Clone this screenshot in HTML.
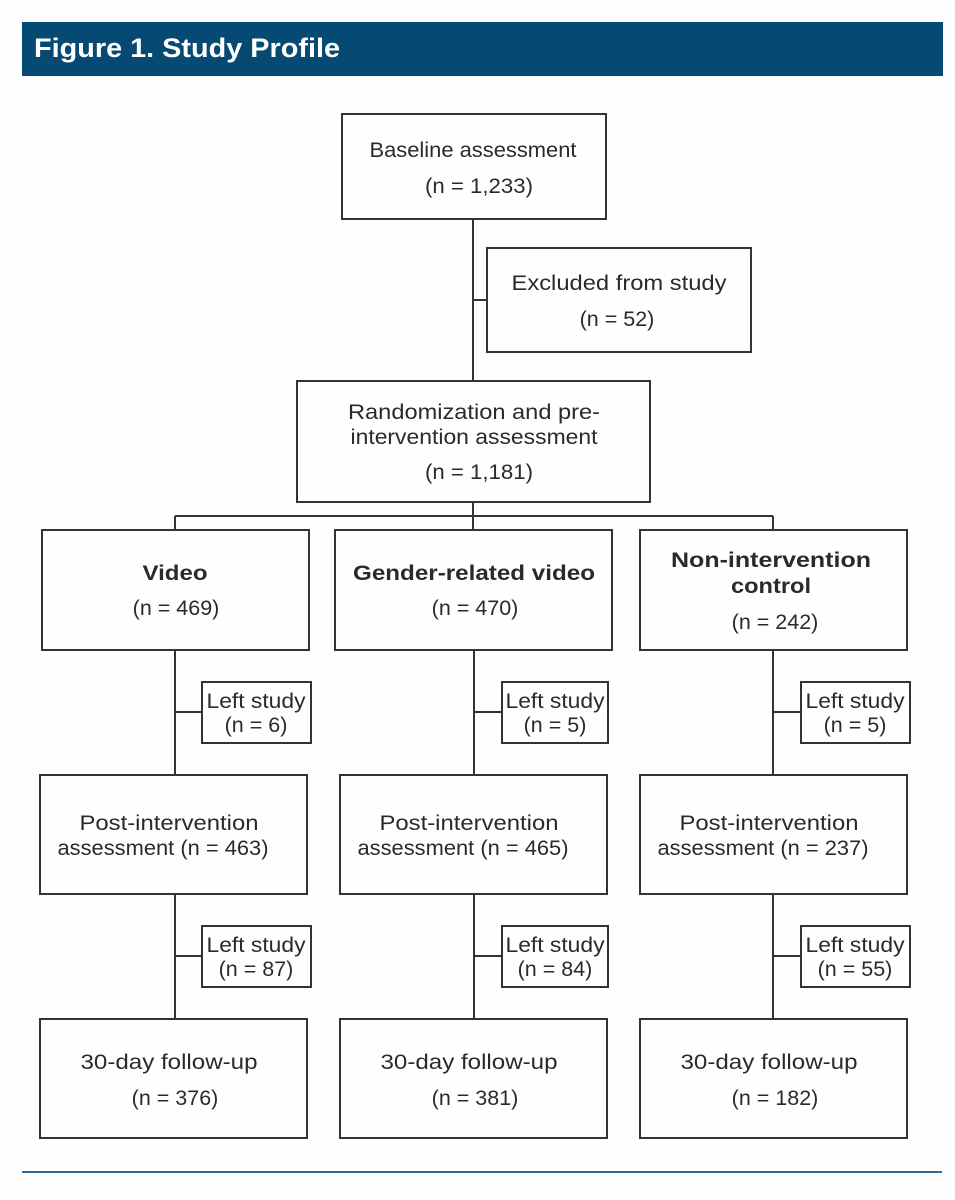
<!DOCTYPE html>
<html><head><meta charset="utf-8"><style>
html,body{margin:0;padding:0;background:#fdfefd;}
svg{display:block;}
text{font-family:"Liberation Sans",sans-serif;fill:#2a2a2a;font-size:21.5px;}
.b{font-weight:bold;}
</style></head><body>
<svg width="955" height="1200" viewBox="0 0 955 1200" xmlns="http://www.w3.org/2000/svg">
<rect x="22" y="22" width="921" height="54" fill="#064a73"/>
<text x="34" y="57" class="b" style="fill:#fff;font-size:27px" textLength="306" lengthAdjust="spacingAndGlyphs">Figure 1. Study Profile</text>
<g fill="none" stroke="#333" stroke-width="2">
<rect x="342" y="114" width="264" height="105"/>
<rect x="487" y="248" width="264" height="104"/>
<rect x="297" y="381" width="353" height="121"/>
<rect x="42" y="530" width="267" height="120"/>
<rect x="335" y="530" width="277" height="120"/>
<rect x="640" y="530" width="267" height="120"/>
<rect x="202" y="682" width="109" height="61"/>
<rect x="502" y="682" width="106" height="61"/>
<rect x="801" y="682" width="109" height="61"/>
<rect x="40" y="775" width="267" height="119"/>
<rect x="340" y="775" width="267" height="119"/>
<rect x="640" y="775" width="267" height="119"/>
<rect x="202" y="926" width="109" height="61"/>
<rect x="502" y="926" width="106" height="61"/>
<rect x="801" y="926" width="109" height="61"/>
<rect x="40" y="1019" width="267" height="119"/>
<rect x="340" y="1019" width="267" height="119"/>
<rect x="640" y="1019" width="267" height="119"/>
<path d="M473 219V381M473 300H487M473 502V530M175 516H773M175 516V530M773 516V530"/>
<path d="M175 650V775M175 712H202M175 894V1019M175 956H202"/>
<path d="M474 650V775M474 712H502M474 894V1019M474 956H502"/>
<path d="M773 650V775M773 712H801M773 894V1019M773 956H801"/>
</g>
<line x1="22" y1="1172" x2="942" y2="1172" stroke="#2e6a9a" stroke-width="2"/>
<g text-anchor="middle">
<text x="473" y="157" textLength="207" lengthAdjust="spacingAndGlyphs">Baseline assessment</text>
<text x="479" y="193" textLength="108" lengthAdjust="spacingAndGlyphs">(n = 1,233)</text>
<text x="619" y="290" textLength="215" lengthAdjust="spacingAndGlyphs">Excluded from study</text>
<text x="617" y="326">(n = 52)</text>
<text x="474" y="419" textLength="252" lengthAdjust="spacingAndGlyphs">Randomization and pre-</text>
<text x="474" y="444" textLength="247" lengthAdjust="spacingAndGlyphs">intervention assessment</text>
<text x="479" y="479" textLength="108" lengthAdjust="spacingAndGlyphs">(n = 1,181)</text>
<text class="b" x="175" y="580" textLength="65" lengthAdjust="spacingAndGlyphs">Video</text>
<text x="176" y="615">(n = 469)</text>
<text class="b" x="474" y="580" textLength="242" lengthAdjust="spacingAndGlyphs">Gender-related video</text>
<text x="475" y="615">(n = 470)</text>
<text class="b" x="771" y="567" textLength="200" lengthAdjust="spacingAndGlyphs">Non-intervention</text>
<text class="b" x="771" y="593" textLength="80" lengthAdjust="spacingAndGlyphs">control</text>
<text x="775" y="629">(n = 242)</text>
<text x="256" y="708" textLength="99" lengthAdjust="spacingAndGlyphs">Left study</text>
<text x="256" y="732">(n = 6)</text>
<text x="555" y="708" textLength="99" lengthAdjust="spacingAndGlyphs">Left study</text>
<text x="555" y="732">(n = 5)</text>
<text x="855" y="708" textLength="99" lengthAdjust="spacingAndGlyphs">Left study</text>
<text x="855" y="732">(n = 5)</text>
<text x="169" y="830" textLength="179" lengthAdjust="spacingAndGlyphs">Post-intervention</text>
<text x="163" y="855" textLength="211" lengthAdjust="spacingAndGlyphs">assessment (n = 463)</text>
<text x="469" y="830" textLength="179" lengthAdjust="spacingAndGlyphs">Post-intervention</text>
<text x="463" y="855" textLength="211" lengthAdjust="spacingAndGlyphs">assessment (n = 465)</text>
<text x="769" y="830" textLength="179" lengthAdjust="spacingAndGlyphs">Post-intervention</text>
<text x="763" y="855" textLength="211" lengthAdjust="spacingAndGlyphs">assessment (n = 237)</text>
<text x="256" y="952" textLength="99" lengthAdjust="spacingAndGlyphs">Left study</text>
<text x="256" y="976">(n = 87)</text>
<text x="555" y="952" textLength="99" lengthAdjust="spacingAndGlyphs">Left study</text>
<text x="555" y="976">(n = 84)</text>
<text x="855" y="952" textLength="99" lengthAdjust="spacingAndGlyphs">Left study</text>
<text x="855" y="976">(n = 55)</text>
<text x="169" y="1069" textLength="177" lengthAdjust="spacingAndGlyphs">30-day follow-up</text>
<text x="175" y="1105">(n = 376)</text>
<text x="469" y="1069" textLength="177" lengthAdjust="spacingAndGlyphs">30-day follow-up</text>
<text x="475" y="1105">(n = 381)</text>
<text x="769" y="1069" textLength="177" lengthAdjust="spacingAndGlyphs">30-day follow-up</text>
<text x="775" y="1105">(n = 182)</text>
</g>
</svg>
</body></html>
